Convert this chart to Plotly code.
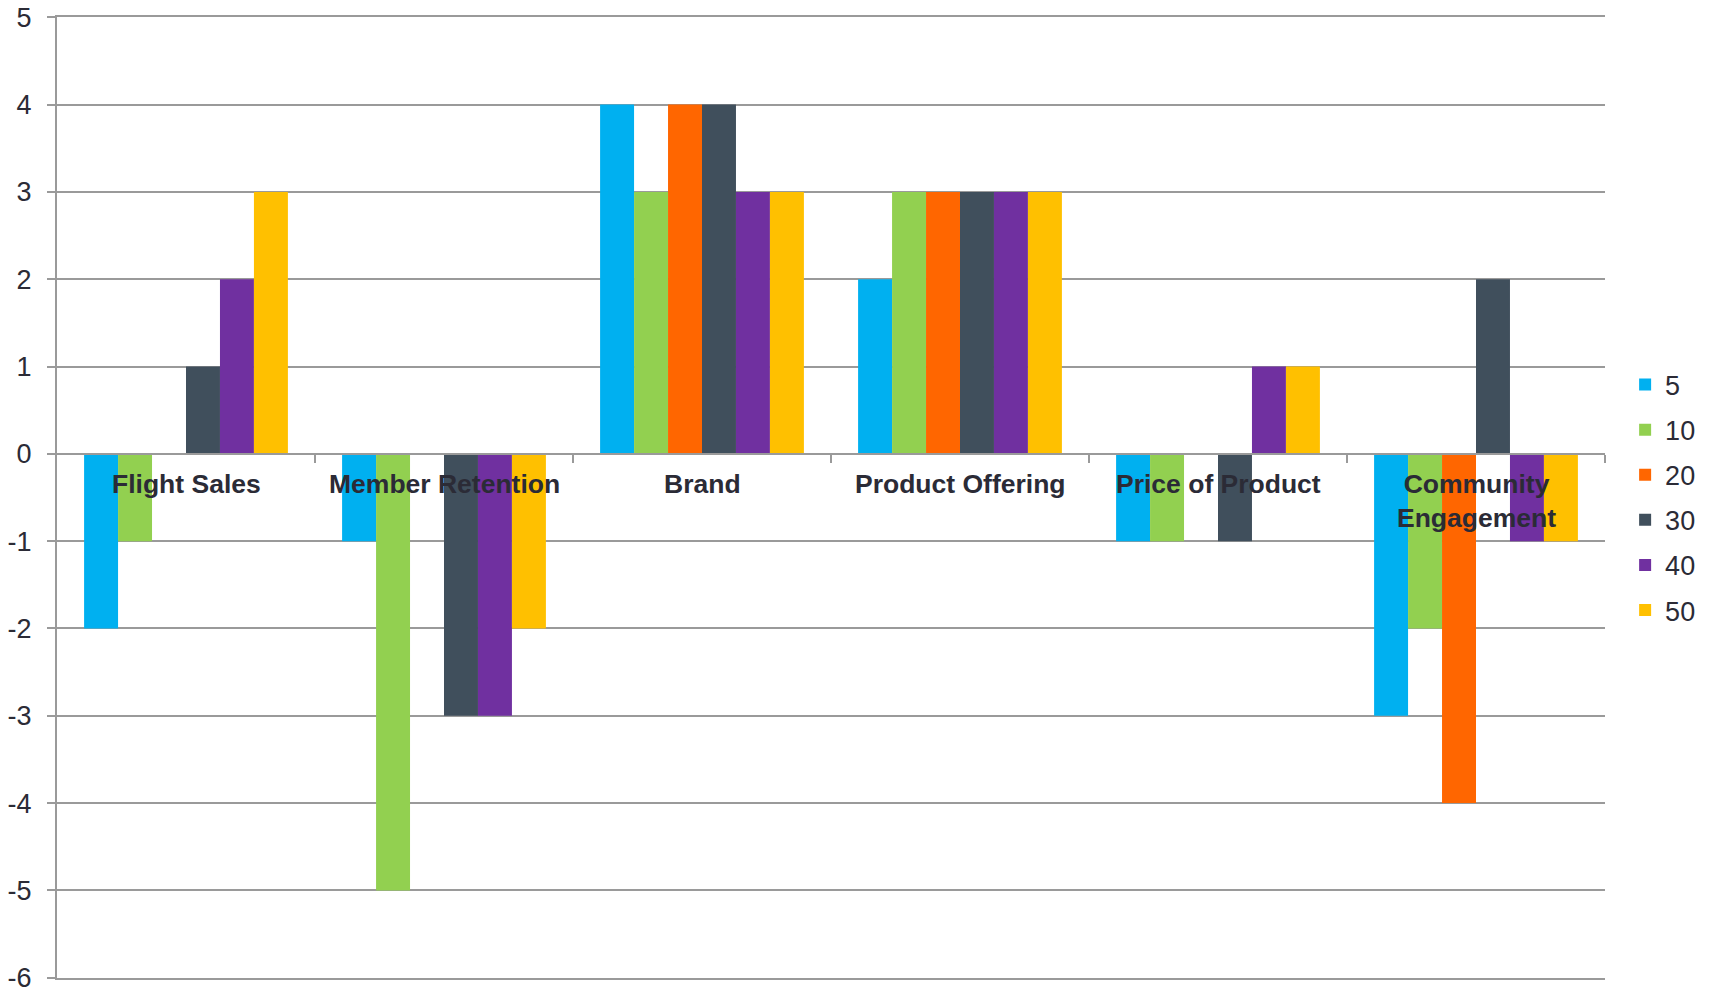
import plotly.graph_objects as go

categories = ["Flight Sales", "Member Retention", "Brand", "Product Offering",
              "Price of Product", "Community Engagement"]
category_labels = ["Flight Sales", "Member Retention", "Brand", "Product Offering",
                   "Price of Product", "Community<br>Engagement"]
series_names = ["5", "10", "20", "30", "40", "50"]
s5 = [-2, -1, 4, 2, -1, -3]
s10 = [-1, -5, 3, 3, -1, -2]
s20 = [0, 0, 4, 3, 0, -4]
s30 = [1, -3, 4, 3, -1, 2]
s40 = [2, -3, 3, 3, 1, -1]
s50 = [3, -2, 3, 3, 1, -1]
series_values = [s5, s10, s20, s30, s40, s50]
colors = ["#00B0F0", "#92D050", "#FF6600", "#404F5C", "#7030A0", "#FFC000"]
y_ticks = [-6, -5, -4, -3, -2, -1, 0, 1, 2, 3, 4, 5]
y_tick_text = ["-6", "-5", "-4", "-3", "-2", "-1", "0", "1", "2", "3", "4", "5"]

FONT = "Liberation Sans, Arial, sans-serif"
TXT = "#2b2b36"
GRID = "#9a9a9a"

fig = go.Figure()
for name, vals, col in zip(series_names, series_values, colors):
    fig.add_trace(go.Bar(x=categories, y=vals, name=name, marker_color=col,
                         marker_line_width=0, legendgroup=name))

for cat, lab in zip(categories, category_labels):
    fig.add_annotation(x=cat, y=0, xref="x", yref="y", text="<b>" + lab + "</b>",
                       showarrow=False, yanchor="top", yshift=-13,
                       font=dict(family=FONT, size=26.5, color=TXT))

fig.update_layout(
    width=1709, height=994, autosize=False,
    barmode="group", bargap=0.21, bargroupgap=0,
    plot_bgcolor="white", paper_bgcolor="white",
    margin=dict(l=57, r=104, t=17, b=16, autoexpand=False),
    font=dict(family=FONT, size=26, color=TXT),
    showlegend=True,
    legend=dict(x=1.013, xanchor="left", y=0.5, yanchor="middle",
                font=dict(family=FONT, size=27, color=TXT),
                tracegroupgap=7, itemwidth=30, bgcolor="rgba(0,0,0,0)"),
    xaxis=dict(showticklabels=False, showgrid=False, zeroline=False,
               showline=True, mirror=True, linecolor=GRID, linewidth=2,
               ticks="", range=[-0.5, 5.5], automargin=False),
    xaxis2=dict(overlaying="x", anchor="free", position=6 / 11, side="bottom",
                range=[-0.5, 5.5], tickvals=[0.5, 1.5, 2.5, 3.5, 4.5, 5.5],
                showticklabels=False, ticks="outside", ticklen=8, tickwidth=2,
                tickcolor=GRID, showline=True, linecolor=GRID, linewidth=2,
                showgrid=False, zeroline=False, automargin=False),
    yaxis=dict(range=[-6.003, 5.003], tickvals=y_ticks, ticktext=y_tick_text,
               showgrid=True, gridcolor=GRID,
               gridwidth=2, zeroline=False, showline=True, linecolor=GRID,
               linewidth=2, ticks="outside", ticklen=8, tickwidth=2, tickcolor=GRID,
               ticklabelstandoff=10, automargin=False, ticklabeloverflow="allow",
               tickfont=dict(family=FONT, size=27, color=TXT)),
)
# invisible trace to activate xaxis2
fig.add_trace(go.Scatter(x=[0], y=[0], xaxis="x2", mode="markers",
                         marker=dict(opacity=0), showlegend=False, hoverinfo="skip"))

fig.write_html("out.html", config={"displayModeBar": False},
               post_script="document.body.style.margin='0';document.body.style.overflow='hidden';")
